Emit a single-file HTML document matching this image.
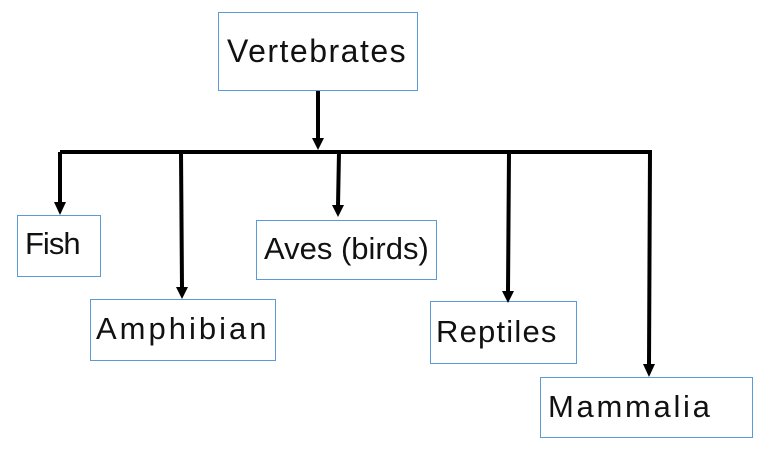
<!DOCTYPE html>
<html><head><style>
body{margin:0;width:767px;height:449px;background:#fff;position:relative;overflow:hidden;font-family:"Liberation Sans",sans-serif;}
.b{position:absolute;border:1px solid #5b9bd5;box-sizing:border-box;font-size:31px;color:#111;padding-left:7px;}
svg{position:absolute;left:0;top:0}
</style></head><body>
<div class="b" style="left:218px;top:12px;width:200px;height:79px;line-height:76px;padding-left:8px;font-size:32px;letter-spacing:1.5px">Vertebrates</div>
<div class="b" style="left:17px;top:215px;width:84px;height:62px;line-height:56px;letter-spacing:-1px">Fish</div>
<div class="b" style="left:90px;top:299px;width:186px;height:62px;line-height:58px;padding-left:5px;letter-spacing:3px">Amphibian</div>
<div class="b" style="left:256px;top:220px;width:181px;height:60px;line-height:56px">Aves (birds)</div>
<div class="b" style="left:430px;top:301px;width:147px;height:63px;line-height:60px;padding-left:5px;letter-spacing:1.2px">Reptiles</div>
<div class="b" style="left:540px;top:377px;width:213px;height:61px;line-height:58px;letter-spacing:2.7px">Mammalia</div>
<svg width="767" height="449">
<g stroke="#000" stroke-width="4" fill="none">
<line x1="318" y1="91" x2="318" y2="140"/>
<line x1="60" y1="152" x2="652" y2="152"/>
<line x1="60" y1="152" x2="60" y2="203"/>
<line x1="181" y1="152" x2="182" y2="288"/>
<line x1="339" y1="152" x2="338" y2="206"/>
<line x1="509" y1="152" x2="508" y2="292"/>
<line x1="650" y1="152" x2="649" y2="365"/>
</g>
<g fill="#000">
<polygon points="312,138 324,138 318,150"/>
<polygon points="54,202 66,202 60,215"/>
<polygon points="176,287 188,287 182,299"/>
<polygon points="332,205 344,205 338,217"/>
<polygon points="502,291 514,291 508,303"/>
<polygon points="643,364 655,364 649,377"/>
</g>
</svg>
</body></html>
